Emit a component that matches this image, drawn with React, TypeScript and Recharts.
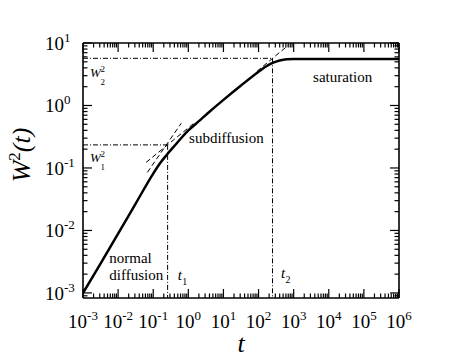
import React from "react";
import { ComposedChart, Line, XAxis, YAxis, ReferenceLine, ReferenceDot } from "recharts";

const SERIF = "'Liberation Serif', 'Times New Roman', serif";

// main curve W^2(t)
const tCurve = [0.001, 0.00316, 0.01, 0.0316, 0.1, 0.158, 0.251, 0.398, 0.631, 1, 2, 4, 10, 31.6, 100, 158, 251, 398, 631, 1000, 10000, 100000, 1000000];
const wCurve = [0.001, 0.00295, 0.0089, 0.0269, 0.0813, 0.12, 0.166, 0.224, 0.302, 0.398, 0.562, 0.794, 1.23, 2.09, 3.47, 4.17, 4.79, 5.25, 5.5, 5.56, 5.56, 5.56, 5.56];

// dashed asymptotes
const normalT = [0.068, 0.63];
const normalW = [0.085, 0.52];
const subT1 = [0.063, 1.6];
const subW1 = [0.123, 0.545];
const subT2 = [90, 700];
const subW2 = [3.52, 9.18];

// crossover markers
const T1 = 0.257;
const W1 = 0.234;
const T2 = 250;
const W2 = 5.69;

const X_MIN = 1e-3;
const X_MAX = 1e6;
const Y_MIN = 8.3e-4;
const Y_MAX = 10;

const xMajor = [1e-3, 1e-2, 1e-1, 1, 10, 100, 1e3, 1e4, 1e5, 1e6];
const yMajor = [1e-3, 1e-2, 1e-1, 1, 10];
const minorSteps = [2, 3, 4, 5, 6, 7, 8, 9];

const withMinor = (majors: number[], lo: number, hi: number) => {
  const out: number[] = [...majors];
  [majors[0] / 10, ...majors].forEach((d) => minorSteps.forEach((m) => out.push(m * d)));
  return out.filter((v) => v >= lo && v <= hi).sort((a, b) => a - b);
};
const xTicks = withMinor(xMajor, X_MIN, X_MAX);
const yTicks = withMinor(yMajor, Y_MIN, Y_MAX);

const toRows = (ts: number[], ws: number[]) => ts.map((t, i) => ({ t, w: ws[i] }));
const curve = toRows(tCurve, wCurve);
const normalLine = toRows(normalT, normalW);
const subLine1 = toRows(subT1, subW1);
const subLine2 = toRows(subT2, subW2);

const expOf = (v: number) => Math.round(Math.log10(v));
const isMajor = (v: number) => Math.abs(Math.log10(v) - expOf(v)) < 1e-6;

const MAJOR_LEN = 9;
const MINOR_LEN = 4.5;

const Pow = ({ x, y, v, anchor }: any) => (
  <text x={x} y={y} textAnchor={anchor} fontFamily={SERIF} fontSize={19} fill="#000">
    10
    <tspan dy={-8} fontSize={13}>
      {expOf(v)}
    </tspan>
  </text>
);

const XTick = (props: any) => {
  const { x, y, payload, side } = props;
  const major = isMajor(payload.value);
  const len = major ? MAJOR_LEN : MINOR_LEN;
  const dir = side === "bottom" ? -1 : 1;
  return (
    <g>
      <line x1={x} y1={y} x2={x} y2={y + dir * len} stroke="#000" strokeWidth={1.2} />
      {major && side === "bottom" && <Pow x={x} y={y + 30} v={payload.value} anchor="middle" />}
    </g>
  );
};

const YTick = (props: any) => {
  const { x, y, payload, side } = props;
  const major = isMajor(payload.value);
  const len = major ? MAJOR_LEN : MINOR_LEN;
  const dir = side === "left" ? 1 : -1;
  return (
    <g>
      <line x1={x} y1={y} x2={x + dir * len} y2={y} stroke="#000" strokeWidth={1.2} />
      {major && side === "left" && <Pow x={x - 38} y={y + 7} v={payload.value} anchor="start" />}
    </g>
  );
};

const centerOf = (p: any) => {
  const vb = p.viewBox || { x: 0, y: 0, width: 0, height: 0 };
  return { cx: vb.x + vb.width / 2, cy: vb.y + vb.height / 2 };
};

const plainText = (text: string) => (p: any) => {
  const { cx, cy } = centerOf(p);
  return (
    <text x={cx} y={cy} fontFamily={SERIF} fontSize={15} fill="#000">
      {text}
    </text>
  );
};

const wLabel = (sub: string) => (p: any) => {
  const { cx, cy } = centerOf(p);
  return (
    <g fontFamily={SERIF}>
      <text x={cx} y={cy} fontSize={13} fontStyle="italic" fill="#000">W</text>
      <text x={cx + 10.5} y={cy - 5} fontSize={9} fill="#000">2</text>
      <text x={cx + 10.5} y={cy + 8} fontSize={9} fill="#000">{sub}</text>
    </g>
  );
};

const tLabel = (sub: string) => (p: any) => {
  const { cx, cy } = centerOf(p);
  return (
    <g fontFamily={SERIF}>
      <text x={cx} y={cy} fontSize={15} fontStyle="italic" fill="#000">t</text>
      <text x={cx + 4.5} y={cy + 5} fontSize={10} fill="#000">{sub}</text>
    </g>
  );
};

const dashDot = "5 2 1 2";
const frame = { stroke: "#000", strokeWidth: 1.6 };

export default function App() {
  return (
    <div style={{ position: "absolute", left: 0, top: 0, width: 463, height: 358, background: "#fff" }}>
      <ComposedChart width={463} height={358} margin={{ top: 42, right: 63, bottom: 59, left: 82 }}>
        <XAxis
          dataKey="t"
          type="number"
          scale="log"
          domain={[X_MIN, X_MAX]}
          allowDataOverflow
          ticks={xTicks}
          interval={0}
          height={1}
          tickSize={0}
          tickMargin={0}
          tickLine={false}
          axisLine={frame}
          tick={(p: any) => <XTick {...p} side="bottom" />}
        />
        <XAxis
          xAxisId="top"
          orientation="top"
          dataKey="t"
          type="number"
          scale="log"
          domain={[X_MIN, X_MAX]}
          allowDataOverflow
          ticks={xTicks}
          interval={0}
          height={1}
          tickSize={0}
          tickMargin={0}
          tickLine={false}
          axisLine={frame}
          tick={(p: any) => <XTick {...p} side="top" />}
        />
        <YAxis
          type="number"
          scale="log"
          domain={[Y_MIN, Y_MAX]}
          allowDataOverflow
          ticks={yTicks}
          interval={0}
          width={1}
          tickSize={0}
          tickMargin={0}
          tickLine={false}
          axisLine={frame}
          tick={(p: any) => <YTick {...p} side="left" />}
        />
        <YAxis
          yAxisId="right"
          orientation="right"
          type="number"
          scale="log"
          domain={[Y_MIN, Y_MAX]}
          allowDataOverflow
          ticks={yTicks}
          interval={0}
          width={1}
          tickSize={0}
          tickMargin={0}
          tickLine={false}
          axisLine={frame}
          tick={(p: any) => <YTick {...p} side="right" />}
        />

        <ReferenceLine segment={[{ x: X_MIN, y: W1 }, { x: T1, y: W1 }]} stroke="#000" strokeWidth={1} strokeDasharray={dashDot} />
        <ReferenceLine segment={[{ x: T1, y: W1 }, { x: T1, y: Y_MIN }]} stroke="#000" strokeWidth={1} strokeDasharray={dashDot} />
        <ReferenceLine segment={[{ x: X_MIN, y: W2 }, { x: T2, y: W2 }]} stroke="#000" strokeWidth={1} strokeDasharray={dashDot} />
        <ReferenceLine segment={[{ x: T2, y: W2 }, { x: T2, y: Y_MIN }]} stroke="#000" strokeWidth={1} strokeDasharray={dashDot} />

        <Line data={normalLine} dataKey="w" type="linear" stroke="#000" strokeWidth={1} strokeDasharray="5 3" dot={false} isAnimationActive={false} />
        <Line data={subLine1} dataKey="w" type="linear" stroke="#000" strokeWidth={1} strokeDasharray="5 3" dot={false} isAnimationActive={false} />
        <Line data={subLine2} dataKey="w" type="linear" stroke="#000" strokeWidth={1} strokeDasharray="5 3" dot={false} isAnimationActive={false} />
        <Line data={curve} dataKey="w" type="monotone" stroke="#000" strokeWidth={2.5} dot={false} isAnimationActive={false} />

        <ReferenceDot x={3570} y={2.35} r={1} fill="none" stroke="none" label={{ content: plainText("saturation") }} />
        <ReferenceDot x={1.05} y={0.251} r={1} fill="none" stroke="none" label={{ content: plainText("subdiffusion") }} />
        <ReferenceDot x={0.0056} y={0.00302} r={1} fill="none" stroke="none" label={{ content: plainText("normal") }} />
        <ReferenceDot x={0.0056} y={0.00161} r={1} fill="none" stroke="none" label={{ content: plainText("diffusion") }} />
        <ReferenceDot x={0.00158} y={2.86} r={1} fill="none" stroke="none" label={{ content: wLabel("2") }} />
        <ReferenceDot x={0.00158} y={0.1247} r={1} fill="none" stroke="none" label={{ content: wLabel("1") }} />
        <ReferenceDot x={0.499} y={0.00161} r={1} fill="none" stroke="none" label={{ content: tLabel("1") }} />
        <ReferenceDot x={437} y={0.00172} r={1} fill="none" stroke="none" label={{ content: tLabel("2") }} />

        <text x={241} y={352} textAnchor="middle" fontFamily={SERIF} fontSize={26} fontStyle="italic" fill="#000">
          t
        </text>
        <text transform="translate(30,155) rotate(-90)" textAnchor="middle" fontFamily={SERIF} fontSize={26} fontStyle="italic" fill="#000">
          W<tspan dy={-10} fontSize={17} fontStyle="normal">2</tspan>
          <tspan dy={10}>(t)</tspan>
        </text>
      </ComposedChart>
    </div>
  );
}
